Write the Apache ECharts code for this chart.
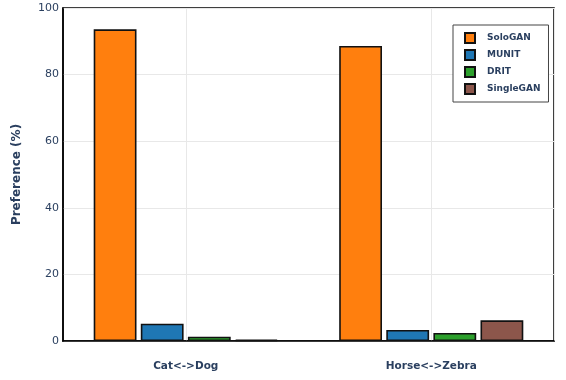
<!DOCTYPE html>
<html><head><meta charset="utf-8">
<script src="https://cdn.jsdelivr.net/npm/echarts@6/dist/echarts.min.js"></script>
<style>html,body{margin:0;padding:0;background:#fff}#c{width:566px;height:380px}</style>
</head><body><div id="c"></div>
<script>
const categories = ['Cat<->Dog', 'Horse<->Zebra'];
const seriesNames = ['SoloGAN', 'MUNIT', 'DRIT', 'SingleGAN'];
const soloGAN = [93.6, 88.6];
const munit = [5.2, 3.3];
const drit = [1.3, 2.4];
const singleGAN = [0.4, 6.2];
const yTicks = [0, 20, 40, 60, 80, 100];
const colors = ['#ff7f0e', '#1f77b4', '#2ca02c', '#8c564b'];
const values = [soloGAN, munit, drit, singleGAN];
const txt = '#2a3f5f';
const font = 'DejaVu Sans';
const chart = echarts.init(document.getElementById('c'), null, {renderer: 'canvas'});
chart.setOption({
  animation: false,
  backgroundColor: '#fff',
  grid: {left: 63, right: 12, top: 8, bottom: 39, show: true, borderColor: '#000', borderWidth: 1.5, backgroundColor: 'transparent'},
  legend: {
    orient: 'vertical', left: 453, top: 25,
    data: seriesNames,
    itemWidth: 10, itemHeight: 10, itemGap: 5,
    padding: [7, 8, 7, 11],
    borderColor: '#444', borderWidth: 1, backgroundColor: '#fff',
    icon: 'rect',
    textStyle: {fontFamily: font, fontWeight: 'bold', fontSize: 9, color: txt, padding: [0, 0, 0, 7]}
  },
  xAxis: [{
    type: 'category', data: categories,
    axisLine: {show: true, lineStyle: {color: '#000', width: 1.5}},
    axisTick: {show: false},
    axisLabel: {fontFamily: font, fontWeight: 'bold', fontSize: 10.5, color: txt, margin: 20},
    splitLine: {show: false}
  }, {
    type: 'category', data: ['a', 'b', 'c', 'd'], position: 'bottom',
    axisLine: {show: false}, axisTick: {show: false}, axisLabel: {show: false},
    splitLine: {show: true, interval: (i) => i === 1 || i === 3, lineStyle: {color: '#e8e8e8', width: 1}}
  }],
  yAxis: {
    type: 'value', min: 0, max: 100, interval: 20,
    name: 'Preference (%)', nameLocation: 'middle', nameGap: 40,
    nameTextStyle: {fontFamily: font, fontWeight: 'bold', fontSize: 12, color: txt},
    axisLine: {show: true, lineStyle: {color: '#000', width: 1.5}},
    axisTick: {show: false},
    axisLabel: {fontFamily: font, fontSize: 11, color: txt, margin: 4, formatter: (v) => yTicks.includes(v) ? String(v) : ''},
    splitLine: {show: true, lineStyle: {color: '#e8e8e8', width: 1}}
  },
  series: seriesNames.map((n, k) => ({
    name: n, type: 'bar', data: values[k], xAxisIndex: 0,
    barGap: '10%', barCategoryGap: '25%',
    itemStyle: {color: colors[k], borderColor: '#111', borderWidth: 1.6}
  }))
});
</script></body></html>
